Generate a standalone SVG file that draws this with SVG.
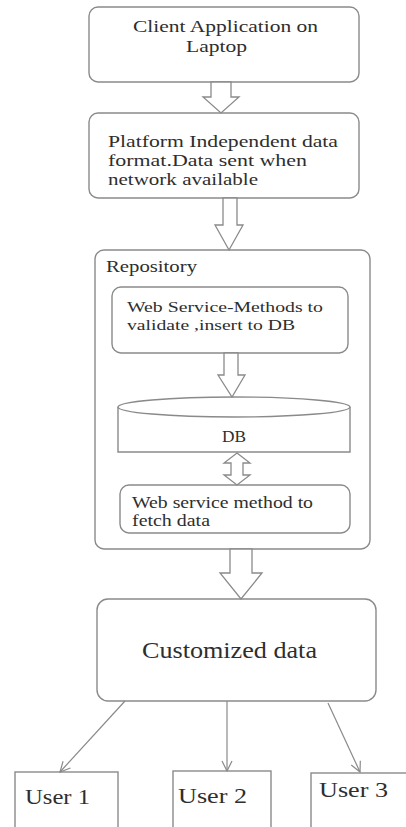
<svg xmlns="http://www.w3.org/2000/svg" width="406" height="827" viewBox="0 0 406 827">
<style>
.box{fill:#fff;stroke:#8a8a8a;stroke-width:1.4}
.blk{fill:#fff;stroke:#8a8a8a;stroke-width:1.3;stroke-linejoin:miter}
.ln{stroke:#8a8a8a;stroke-width:1.2;fill:none}
text{font-family:'Liberation Serif','Times New Roman',serif;fill:#2e2e2e}
</style>
<defs>
<marker id="ah" viewBox="0 0 12 12" refX="11" refY="6" markerWidth="12" markerHeight="12" markerUnits="userSpaceOnUse" orient="auto">
<path d="M1,1 L11,6 L1,11" fill="none" stroke="#8a8a8a" stroke-width="1.2"/>
</marker>
</defs>
<rect width="406" height="827" fill="#fff"/>

<g id="client">
<rect class="box" x="89" y="7" width="270" height="75" rx="9"/>
<text x="133" y="32" font-size="17" textLength="185" lengthAdjust="spacingAndGlyphs">Client Application on</text>
<text x="186" y="52" font-size="17" textLength="61" lengthAdjust="spacingAndGlyphs">Laptop</text>
</g>

<g id="platform">
<rect class="box" x="89" y="113" width="270" height="85" rx="9"/>
<text x="108" y="147" font-size="17" textLength="230" lengthAdjust="spacingAndGlyphs">Platform Independent data</text>
<text x="108" y="166" font-size="17" textLength="199" lengthAdjust="spacingAndGlyphs">format.Data sent when</text>
<text x="108" y="185" font-size="17" textLength="150" lengthAdjust="spacingAndGlyphs">network available</text>
</g>

<g id="repository">
<rect class="box" x="95" y="250" width="275" height="299" rx="9"/>
<text x="106" y="272" font-size="17" textLength="91" lengthAdjust="spacingAndGlyphs">Repository</text>
</g>

<g id="ws-insert">
<rect class="box" x="112" y="287" width="236" height="66" rx="9"/>
<text x="127" y="312" font-size="15" textLength="196" lengthAdjust="spacingAndGlyphs">Web Service-Methods to</text>
<text x="127" y="330" font-size="15" textLength="168" lengthAdjust="spacingAndGlyphs">validate ,insert to DB</text>
</g>

<g id="db">
<path class="box" d="M118,407 L118,452 L350,452 L350,407"/>
<ellipse class="box" cx="234" cy="407" rx="116" ry="10"/>
<text x="234" y="442" font-size="16" text-anchor="middle" textLength="24" lengthAdjust="spacingAndGlyphs">DB</text>
</g>

<g id="ws-fetch">
<rect class="box" x="120" y="485" width="230" height="48" rx="9"/>
<text x="132" y="508" font-size="16" textLength="181" lengthAdjust="spacingAndGlyphs">Web service method to</text>
<text x="132" y="526" font-size="16" textLength="78" lengthAdjust="spacingAndGlyphs">fetch data</text>
</g>

<g id="customized">
<rect class="box" x="97" y="599" width="279" height="102" rx="11"/>
<text x="142" y="658" font-size="24" textLength="175" lengthAdjust="spacingAndGlyphs">Customized data</text>
</g>

<g id="user1">
<rect class="box" x="15" y="772" width="103" height="70"/>
<text x="25" y="804" font-size="22" textLength="65" lengthAdjust="spacingAndGlyphs">User 1</text>
</g>
<g id="user2">
<rect class="box" x="173" y="771" width="98" height="70"/>
<text x="178" y="803" font-size="22" textLength="69" lengthAdjust="spacingAndGlyphs">User 2</text>
</g>
<g id="user3">
<rect class="box" x="311" y="773" width="110" height="70"/>
<text x="319" y="797" font-size="22" textLength="69" lengthAdjust="spacingAndGlyphs">User 3</text>
</g>

<g id="connectors">
<polygon class="blk" points="211,82 231,82 231,97 239,97 221,113 203,97 211,97"/>
<polygon class="blk" points="223,198 237,198 237,225 243,225 229,250 215,225 223,225"/>
<polygon class="blk" points="224,353 238,353 238,375 245,375 232,397 218,375 224,375"/>
<polygon class="blk" points="237,453 250,463 243,463 243,475 250,475 237,485 224,475 231,475 231,463 224,463"/>
<polygon class="blk" points="230,549 252,549 252,573 262,573 241,599 220,573 230,573"/>
<line class="ln" x1="125" y1="701" x2="60" y2="772" marker-end="url(#ah)"/>
<line class="ln" x1="227" y1="701" x2="227" y2="771" marker-end="url(#ah)"/>
<line class="ln" x1="328" y1="703" x2="360" y2="772" marker-end="url(#ah)"/>
</g>
</svg>
